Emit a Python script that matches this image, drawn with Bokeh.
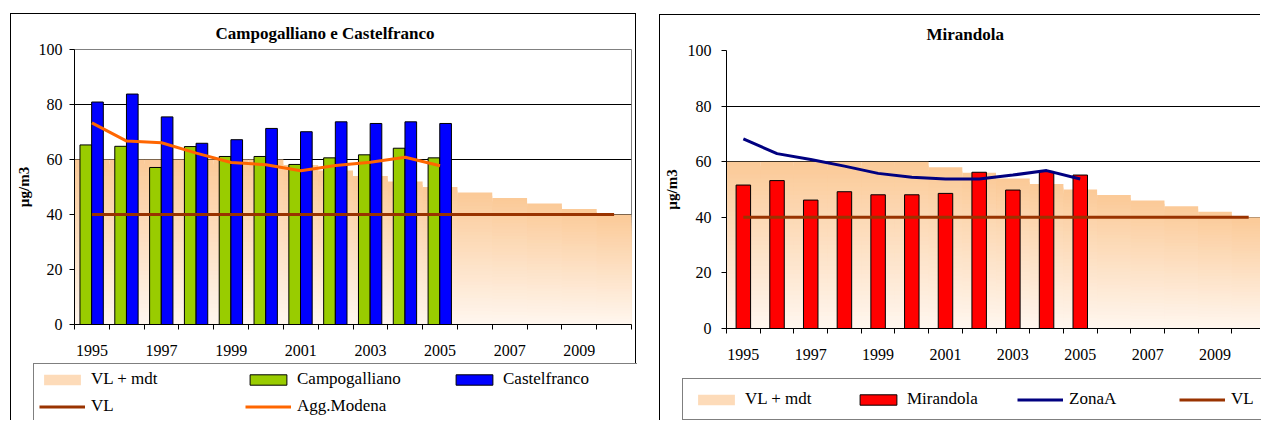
from bokeh.plotting import figure
from bokeh.models import ColumnDataSource, Range1d, FixedTicker, Legend, LegendItem
from bokeh.layouts import row, column
from bokeh.transform import dodge
from bokeh.embed import file_html
from bokeh.resources import INLINE

# ---------------- data ----------------
years = list(range(1995, 2011))
vl_mdt = [60, 60, 60, 60, 60, 60, 58, 56, 54, 52, 50, 48, 46, 44, 42, 40]
vl = [40] * 16
obs_years = list(range(1995, 2006))
campogalliano = [65.3, 64.8, 57.1, 64.7, 61.1, 61.1, 58.2, 60.6, 61.7, 64.1, 60.6]
castelfranco = [80.9, 83.8, 75.5, 65.9, 67.2, 71.3, 70.1, 73.7, 73.1, 73.7, 73.1]
agg_modena = [73.3, 66.7, 66.1, 62.3, 58.9, 58.1, 55.9, 57.8, 59.0, 60.8, 57.7]
mirandola = [51.6, 53.2, 46.2, 49.2, 48.1, 48.1, 48.6, 56.2, 49.8, 56.5, 55.2]
zona_a = [68.2, 62.9, 60.8, 58.4, 55.8, 54.4, 53.8, 53.8, 55.2, 56.8, 53.8]
label_years = [1995, 1997, 1999, 2001, 2003, 2005, 2007, 2009]
y_ticks = [0, 20, 40, 60, 80, 100]

SERIF = "Liberation Serif"
TOP_C = (251, 202, 152)
BOT_C = (255, 246, 238)
N_BANDS = 40
LEGEND_INDEX = (N_BANDS - 1 - int(N_BANDS * 0.6)) * len(years)
BORDER = "1px solid black"


def gradient_source():
    left, right, top, color = [], [], [], []
    for k in range(N_BANDS - 1, -1, -1):
        t = k / (N_BANDS - 1)
        c = tuple(round(BOT_C[j] + (TOP_C[j] - BOT_C[j]) * t) for j in range(3))
        hexc = "#%02x%02x%02x" % c
        for yr, v in zip(years, vl_mdt):
            left.append(yr - 0.5)
            right.append(yr + 0.5)
            top.append(v * (k + 1) / N_BANDS)
            color.append(hexc)
    return ColumnDataSource(dict(left=left, right=right, bottom=[0] * len(left),
                                 top=top, color=color))


def base_figure(title, width, height, x_end, min_left, min_top, min_bottom, min_right,
                title_offset, ylab_standoff, ytick_standoff):
    p = figure(width=width, height=height, x_range=Range1d(1994.5, x_end),
               y_range=Range1d(0, 100), output_backend="svg", toolbar_location=None,
               min_border_left=min_left, min_border_top=min_top,
               min_border_bottom=min_bottom, min_border_right=min_right,
               background_fill_color="white", border_fill_color="white")
    p.title.text = title
    p.title.align = "left"
    p.title.offset = title_offset
    p.title.text_font = SERIF
    p.title.text_font_size = "17px"
    p.title.text_font_style = "bold"
    p.title.text_color = "black"
    p.title.standoff = 14

    xa = p.xaxis[0]
    xa.ticker = FixedTicker(ticks=label_years,
                            minor_ticks=[y - 0.5 for y in years] + [years[-1] + 0.5])
    xa.major_tick_line_color = None
    xa.major_tick_out = 0
    xa.major_tick_in = 0
    xa.minor_tick_out = 5
    xa.minor_tick_in = 0
    xa.minor_tick_line_color = "black"
    xa.axis_line_color = "black"
    xa.major_label_standoff = 15
    xa.major_label_text_font = SERIF
    xa.major_label_text_font_size = "16px"
    xa.major_label_text_color = "black"

    ya = p.yaxis[0]
    ya.ticker = FixedTicker(ticks=y_ticks)
    ya.minor_tick_line_color = None
    ya.major_tick_out = 5
    ya.major_tick_in = 0
    ya.major_tick_line_color = "black"
    ya.axis_line_color = "black"
    ya.major_label_standoff = ytick_standoff
    ya.major_label_text_font = SERIF
    ya.major_label_text_font_size = "16px"
    ya.major_label_text_color = "black"
    ya.axis_label = "µg/m3"
    ya.axis_label_text_font = SERIF
    ya.axis_label_text_font_size = "15px"
    ya.axis_label_text_font_style = "bold"
    ya.axis_label_text_color = "black"
    ya.axis_label_standoff = ylab_standoff

    p.xgrid.visible = False
    p.ygrid.grid_line_color = "black"
    p.ygrid.grid_line_width = 1
    return p


def legend_figure(width, height):
    # a strip holding only the legend; its renderers reuse the chart data,
    # which lies outside this strip's 0..1 ranges and so stays invisible
    q = figure(width=width, height=height, x_range=Range1d(0, 1), y_range=Range1d(0, 1),
               output_backend="svg", toolbar_location=None, x_axis_type=None,
               y_axis_type=None, min_border=0, min_border_left=0, min_border_right=0,
               min_border_top=0, min_border_bottom=0,
               background_fill_color="white", border_fill_color="white")
    q.outline_line_color = None
    q.grid.visible = False
    return q


def style_legend(leg):
    leg.glyph_width = 46
    leg.glyph_height = 13
    leg.label_standoff = 6
    leg.label_text_font = SERIF
    leg.label_text_font_size = "17px"
    leg.label_text_color = "black"
    leg.label_height = 20
    leg.border_line_color = "black"
    leg.border_line_width = 1
    leg.background_fill_color = "white"
    leg.background_fill_alpha = 1.0
    leg.margin = 0


# ---------------- left chart ----------------
p1 = base_figure("Campogalliano e Castelfranco", 626, 349, 2010.5,
                 63, 33, 39, 6, 141, 4, 7)
p1.outline_line_color = "#808080"

grad1 = gradient_source()
p1.quad(left="left", right="right", bottom="bottom", top="top",
        fill_color="color", line_color=None, source=grad1)
src1 = ColumnDataSource(dict(year=obs_years, camp=campogalliano, cast=castelfranco,
                             agg=agg_modena))
vl_src = ColumnDataSource(dict(year=years, vl=vl))
p1.vbar(x=dodge("year", -0.175), width=0.335, top="camp", bottom=0,
        fill_color="#99CC00", line_color="black", line_width=1, source=src1)
p1.vbar(x=dodge("year", 0.16), width=0.335, top="cast", bottom=0,
        fill_color="#0000FF", line_color="black", line_width=1, source=src1)
p1.line("year", "vl", line_color="#993300", line_width=3, source=vl_src)
p1.line("year", "agg", line_color="#FF6600", line_width=3, source=src1)
p1.styles = {"border-left": BORDER, "border-top": BORDER, "border-right": BORDER}

q1 = legend_figure(626, 58)
s_area1 = q1.quad(left="left", right="right", bottom="bottom", top="top",
                  fill_color="color", line_color=None, source=grad1)
s_camp = q1.vbar(x="year", width=0.335, top="camp", bottom=0, fill_color="#99CC00",
                 line_color="black", line_width=1, source=src1)
s_cast = q1.vbar(x="year", width=0.335, top="cast", bottom=0, fill_color="#0000FF",
                 line_color="black", line_width=1, source=src1)
s_vl1 = q1.line("year", "vl", line_color="#993300", line_width=3, source=vl_src)
s_agg = q1.line("year", "agg", line_color="#FF6600", line_width=3, source=src1)
leg1 = Legend(items=[
    LegendItem(label="VL + mdt", renderers=[s_area1], index=LEGEND_INDEX),
    LegendItem(label="Campogalliano", renderers=[s_camp]),
    LegendItem(label="Castelfranco", renderers=[s_cast]),
    LegendItem(label="VL", renderers=[s_vl1]),
    LegendItem(label="Agg.Modena", renderers=[s_agg]),
], location=(22, -2), orientation="horizontal", ncols=3)
style_legend(leg1)
leg1.label_width = 147
leg1.spacing = 7
leg1.padding = 5
q1.add_layout(leg1)
q1.styles = {"border-left": BORDER, "border-right": BORDER}

left_col = column(p1, row(q1, spacing=0), spacing=0, margin=(13, 0, 0, 10))

# ---------------- right chart ----------------
p2 = base_figure("Mirandola", 601, 360, 2010.38, 66, 34, 47, 0, 200, 5, 10)
p2.outline_line_color = None

grad2 = gradient_source()
p2.quad(left="left", right="right", bottom="bottom", top="top",
        fill_color="color", line_color=None, source=grad2)
src2 = ColumnDataSource(dict(year=obs_years, mir=mirandola, zona=zona_a))
p2.vbar(x="year", width=0.43, top="mir", bottom=0, fill_color="#FF0000",
        line_color="black", line_width=1, source=src2)
p2.line("year", "vl", line_color="#993300", line_width=3, source=vl_src)
p2.line("year", "zona", line_color="#000080", line_width=3, source=src2)
p2.styles = {"border-left": BORDER, "border-top": BORDER}

q2 = legend_figure(601, 46)
s_area2 = q2.quad(left="left", right="right", bottom="bottom", top="top",
                  fill_color="color", line_color=None, source=grad2)
s_mir = q2.vbar(x="year", width=0.43, top="mir", bottom=0, fill_color="#FF0000",
                line_color="black", line_width=1, source=src2)
s_zona = q2.line("year", "zona", line_color="#000080", line_width=3, source=src2)
s_vl2 = q2.line("year", "vl", line_color="#993300", line_width=3, source=vl_src)
leg2 = Legend(items=[
    LegendItem(label="VL + mdt", renderers=[s_area2], index=LEGEND_INDEX),
    LegendItem(label="Mirandola", renderers=[s_mir]),
    LegendItem(label="ZonaA", renderers=[s_zona]),
    LegendItem(label="VL", renderers=[s_vl2]),
], location=(22, 0), orientation="horizontal")
style_legend(leg2)
leg2.label_width = 110
leg2.spacing = 0
leg2.padding = 10
q2.add_layout(leg2)
q2.styles = {"border-left": BORDER}

right_col = column(p2, row(q2, spacing=0), spacing=0, margin=(14, 0, 0, 23))

layout = row(left_col, right_col, spacing=0)
open("out.html", "w").write(file_html(layout, INLINE))
